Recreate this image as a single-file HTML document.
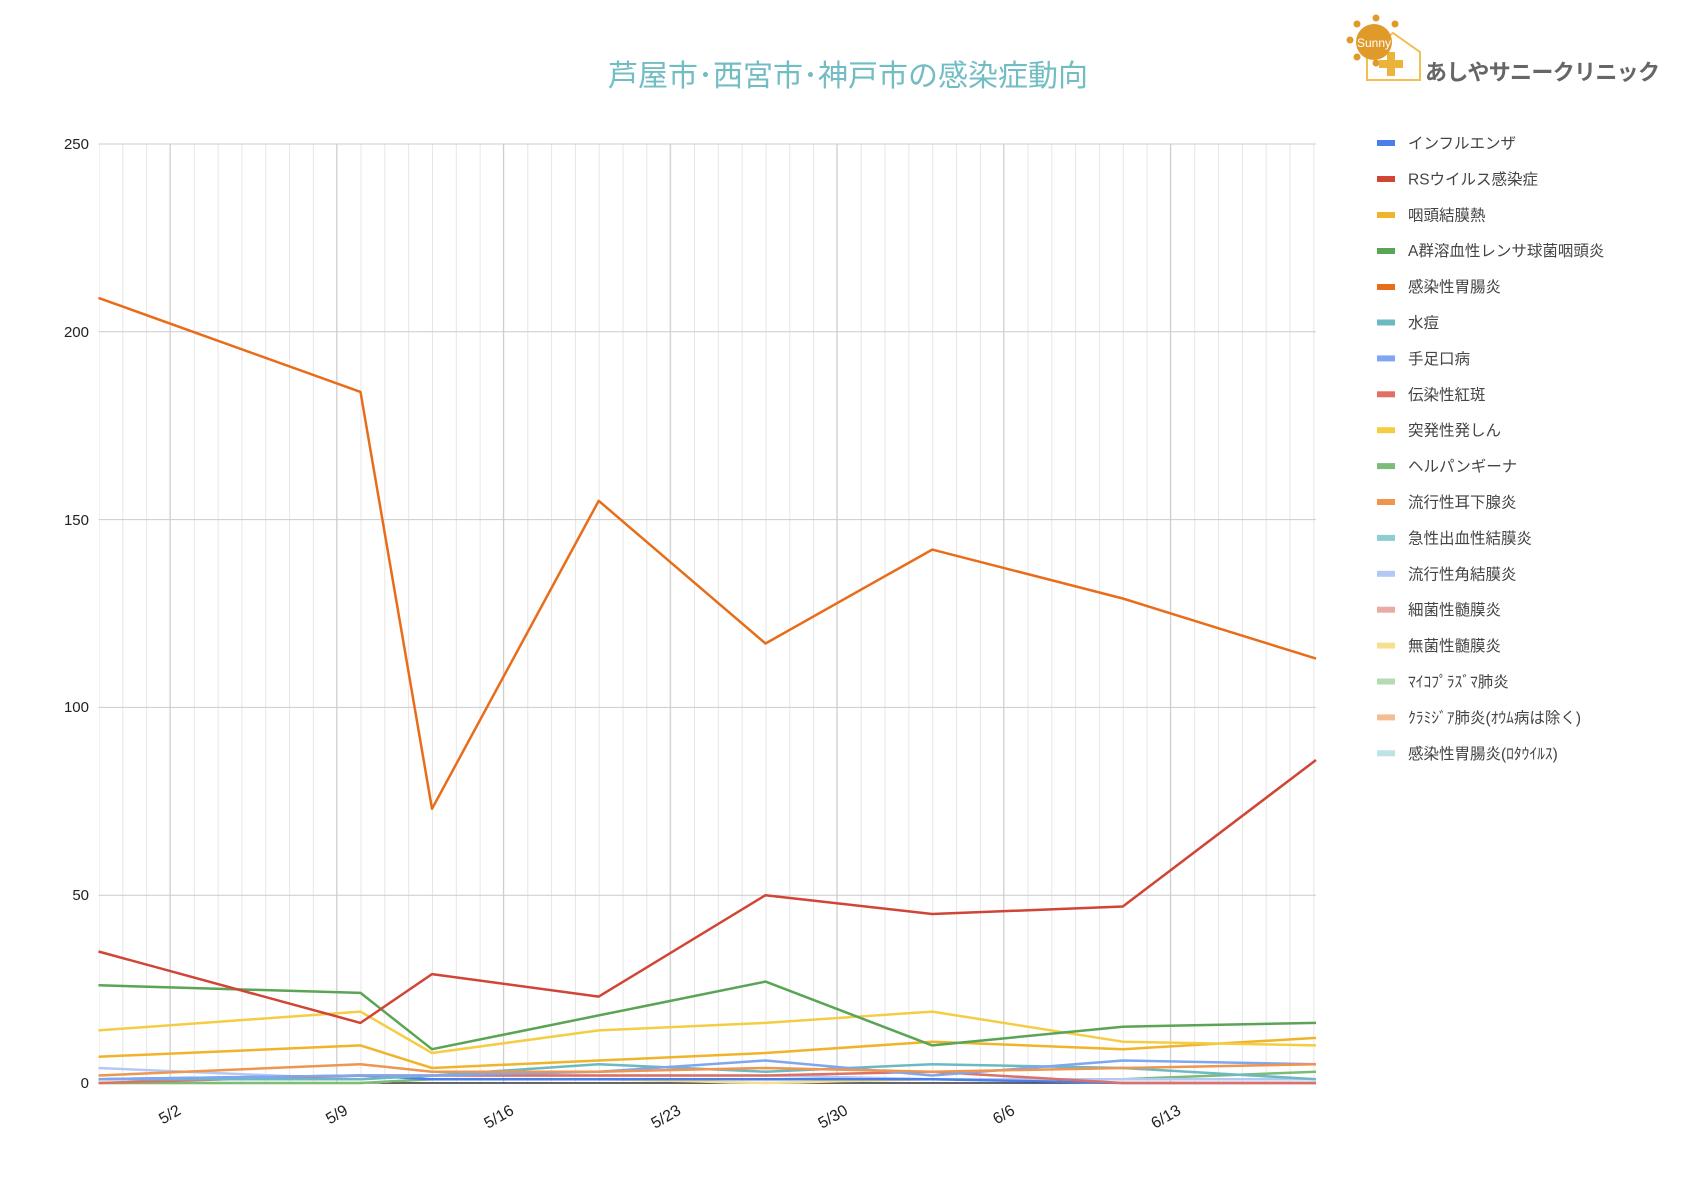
<!DOCTYPE html>
<html><head><meta charset="utf-8"><style>
body{margin:0;background:#fff;}
svg text{font-family:"Liberation Sans","Noto Sans CJK JP",sans-serif;}
</style></head><body>
<svg width="1690" height="1176" xmlns="http://www.w3.org/2000/svg">
<defs>
<pattern id="mg" patternUnits="userSpaceOnUse" x="98.5" y="0" width="23.82" height="20"><line x1="0.5" y1="0" x2="0.5" y2="20" stroke="#e6e6e6" stroke-width="1"/></pattern>
</defs>
<rect width="1690" height="1176" fill="#fff"/>
<text x="848" y="86" text-anchor="middle" font-size="30" fill="#72bcc4">芦屋市･西宮市･神戸市の感染症動向</text>
<g>
<g fill="#e09a2a"><circle cx="1376" cy="18" r="3.5"/><circle cx="1357" cy="24" r="3.5"/><circle cx="1395" cy="24" r="3.5"/><circle cx="1350" cy="40" r="3.5"/><circle cx="1357" cy="57" r="3.5"/><circle cx="1376" cy="63" r="3.5"/></g>
<path d="M1367 80 V52 L1393 33 L1420 52 V80 Z" fill="none" stroke="#f0c050" stroke-width="2"/>
<rect x="1387" y="52" width="8" height="24" fill="#eab43a"/><rect x="1379" y="60" width="24" height="8" fill="#eab43a"/>
<circle cx="1374" cy="42" r="18" fill="#e09a2a"/>
<text x="1374" y="47" text-anchor="middle" font-size="12" fill="#fff">Sunny</text>
<text x="1425" y="80" font-size="22" font-weight="bold" fill="#666" textLength="235">あしやサニークリニック</text>
</g>
<rect x="99" y="144" width="1217" height="939" fill="url(#mg)"/>
<g stroke="#cccccc" stroke-width="1">
<line x1="170" y1="144" x2="170" y2="1083"/><line x1="336.7" y1="144" x2="336.7" y2="1083"/><line x1="503.4" y1="144" x2="503.4" y2="1083"/><line x1="670.2" y1="144" x2="670.2" y2="1083"/><line x1="836.9" y1="144" x2="836.9" y2="1083"/><line x1="1003.7" y1="144" x2="1003.7" y2="1083"/><line x1="1170.4" y1="144" x2="1170.4" y2="1083"/>
<line x1="98.5" y1="144" x2="1316" y2="144"/><line x1="98.5" y1="331.8" x2="1316" y2="331.8"/><line x1="98.5" y1="519.6" x2="1316" y2="519.6"/><line x1="98.5" y1="707.4" x2="1316" y2="707.4"/><line x1="98.5" y1="895.2" x2="1316" y2="895.2"/>
</g>
<line x1="98.5" y1="1083" x2="1316" y2="1083" stroke="#333" stroke-width="1.5"/>
<g font-size="15" fill="#222" text-anchor="end">
<text x="89" y="149">250</text><text x="89" y="337">200</text><text x="89" y="525">150</text><text x="89" y="712">100</text><text x="89" y="900">50</text><text x="89" y="1088">0</text>
</g>
<g font-size="16" fill="#222" text-anchor="end">
<text x="180" y="1114" transform="rotate(-30 180 1110)">5/2</text>
<text x="347" y="1114" transform="rotate(-30 347 1110)">5/9</text>
<text x="513" y="1114" transform="rotate(-30 513 1110)">5/16</text>
<text x="680" y="1114" transform="rotate(-30 680 1110)">5/23</text>
<text x="847" y="1114" transform="rotate(-30 847 1110)">5/30</text>
<text x="1014" y="1114" transform="rotate(-30 1014 1110)">6/6</text>
<text x="1180" y="1114" transform="rotate(-30 1180 1110)">6/13</text>
</g>
<g fill="none" stroke-width="2.5" stroke-linejoin="round">
<polyline stroke="#f6df8e" points="98.5,1083 360.5,1083 432,1079.2 598.7,1079.2 765.5,1083 932.2,1079.2 1122.8,1079.2 1316,1079.2"/>
<polyline stroke="#7dbb7a" points="98.5,1083 360.5,1083 432,1079.2 598.7,1079.2 765.5,1079.2 932.2,1079.2 1122.8,1079.2 1316,1071.7"/>
<polyline stroke="#b4c8f6" points="98.5,1068 360.5,1079.2 432,1075.5 598.7,1075.5 765.5,1075.5 932.2,1079.2 1122.8,1079.2 1316,1079.2"/>
<polyline stroke="#4a7ee8" points="98.5,1079.2 360.5,1075.5 432,1079.2 598.7,1079.2 765.5,1079.2 932.2,1079.2 1122.8,1083 1316,1083"/>
<polyline stroke="#df7065" points="98.5,1083 360.5,1075.5 432,1075.5 598.7,1075.5 765.5,1075.5 932.2,1071.7 1122.8,1083 1316,1083"/>
<polyline stroke="#6bbac2" points="98.5,1079.2 360.5,1079.2 432,1075.5 598.7,1064.2 765.5,1071.7 932.2,1064.2 1122.8,1068 1316,1079.2"/>
<polyline stroke="#7fa6f0" points="98.5,1079.2 360.5,1075.5 432,1075.5 598.7,1071.7 765.5,1060.5 932.2,1075.5 1122.8,1060.5 1316,1064.2"/>
<polyline stroke="#ee9550" points="98.5,1075.5 360.5,1064.2 432,1071.7 598.7,1071.7 765.5,1068 932.2,1071.7 1122.8,1068 1316,1064.2"/>
<polyline stroke="#f0b42a" points="98.5,1056.7 360.5,1045.4 432,1068 598.7,1060.5 765.5,1053 932.2,1041.7 1122.8,1049.2 1316,1037.9"/>
<polyline stroke="#f4cd45" points="98.5,1030.4 360.5,1011.6 432,1053 598.7,1030.4 765.5,1022.9 932.2,1011.6 1122.8,1041.7 1316,1045.4"/>
<polyline stroke="#5aa455" points="98.5,985.3 360.5,992.9 432,1049.2 598.7,1015.4 765.5,981.6 932.2,1045.4 1122.8,1026.7 1316,1022.9"/>
<polyline stroke="#d04535" points="98.5,951.5 360.5,1022.9 432,974.1 598.7,996.6 765.5,895.2 932.2,914 1122.8,906.5 1316,760"/>
<polyline stroke="#e86d1a" points="98.5,297.9 360.5,391.9 432,808.8 598.7,500.8 765.5,643.5 932.2,549.6 1122.8,598.5 1316,658.6"/>
</g>
<g font-size="15.5" fill="#444">
<rect x="1377" y="140" width="18" height="6" fill="#4a7ee8"/><text x="1408" y="148.5">インフルエンザ</text>
<rect x="1377" y="176" width="18" height="6" fill="#d04535"/><text x="1408" y="184.4">RSウイルス感染症</text>
<rect x="1377" y="212" width="18" height="6" fill="#f0b42a"/><text x="1408" y="220.3">咽頭結膜熱</text>
<rect x="1377" y="248" width="18" height="6" fill="#5aa455"/><text x="1408" y="256.2">A群溶血性レンサ球菌咽頭炎</text>
<rect x="1377" y="284" width="18" height="6" fill="#e86d1a"/><text x="1408" y="292.1">感染性胃腸炎</text>
<rect x="1377" y="319.5" width="18" height="6" fill="#6bbac2"/><text x="1408" y="328">水痘</text>
<rect x="1377" y="355.4" width="18" height="6" fill="#7fa6f0"/><text x="1408" y="363.9">手足口病</text>
<rect x="1377" y="391.3" width="18" height="6" fill="#df7065"/><text x="1408" y="399.8">伝染性紅斑</text>
<rect x="1377" y="427.2" width="18" height="6" fill="#f4cd45"/><text x="1408" y="435.7">突発性発しん</text>
<rect x="1377" y="463.1" width="18" height="6" fill="#7dbb7a"/><text x="1408" y="471.6">ヘルパンギーナ</text>
<rect x="1377" y="499" width="18" height="6" fill="#ee9550"/><text x="1408" y="507.5">流行性耳下腺炎</text>
<rect x="1377" y="534.9" width="18" height="6" fill="#8fcdd3"/><text x="1408" y="543.4">急性出血性結膜炎</text>
<rect x="1377" y="570.8" width="18" height="6" fill="#b4c8f6"/><text x="1408" y="579.3">流行性角結膜炎</text>
<rect x="1377" y="606.7" width="18" height="6" fill="#eaaaa6"/><text x="1408" y="615.2">細菌性髄膜炎</text>
<rect x="1377" y="642.6" width="18" height="6" fill="#f6df8e"/><text x="1408" y="651.1">無菌性髄膜炎</text>
<rect x="1377" y="678.5" width="18" height="6" fill="#b4dbb2"/><text x="1408" y="687">ﾏｲｺﾌﾟﾗｽﾞﾏ肺炎</text>
<rect x="1377" y="714.4" width="18" height="6" fill="#f3be92"/><text x="1408" y="722.9">ｸﾗﾐｼﾞｱ肺炎(ｵｳﾑ病は除く)</text>
<rect x="1377" y="750.3" width="18" height="6" fill="#bfe2e6"/><text x="1408" y="758.8">感染性胃腸炎(ﾛﾀｳｲﾙｽ)</text>
</g>
</svg>
</body></html>
